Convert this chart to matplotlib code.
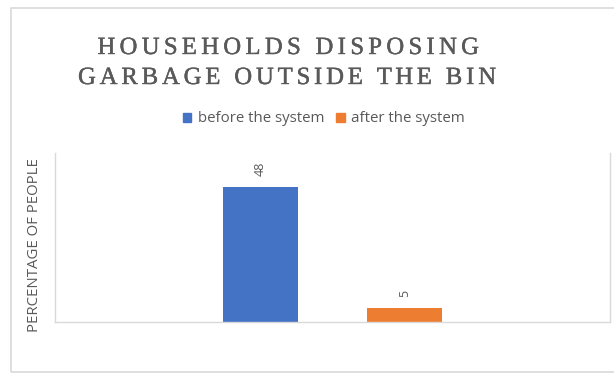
import matplotlib
matplotlib.use("Agg")
import matplotlib.pyplot as plt
import matplotlib.patheffects as pe
from matplotlib.patches import Rectangle
from matplotlib.font_manager import FontProperties

# data
series = ["before the system", "after the system"]
values = [48, 5]
colors = ["#4472C4", "#ED7D31"]
title_lines = ["HOUSEHOLDS DISPOSING", "GARBAGE OUTSIDE THE BIN"]
ylabel = "PERCENTAGE OF PEOPLE"

GRAY = "#595959"
W, H = 614, 374
fig = plt.figure(figsize=(W / 100, H / 100), dpi=100)

# outer chart border
fig.patches.append(Rectangle((11 / W, 1 - 372 / H), 1.2, (372 - 8) / H,
                             transform=fig.transFigure, fill=False,
                             edgecolor="#d9d9d9", linewidth=1.2))

ax = fig.add_axes([55 / W, 1 - 322 / H, (610 - 55) / W, (322 - 153) / H])
xs = list(range(len(values)))
bars = ax.bar(xs, values, width=0.52, color=colors, zorder=2)
ax.set_xlim(-1.427, 2.427)
ax.set_ylim(0, 60)
ax.set_xticks([])
ax.set_yticks([])
for s in ["left", "right", "bottom"]:
    ax.spines[s].set_color("#d9d9d9")
    ax.spines[s].set_linewidth(1.0)
ax.spines["top"].set_visible(False)

for b, v in zip(bars, values):
    ax.annotate(str(v), (b.get_x() + b.get_width() / 2, b.get_height()),
                xytext=(0, 8), textcoords="offset points", ha="center", va="bottom",
                rotation=90, fontsize=9, color=GRAY, family="Open Sans")

ax.set_ylabel(ylabel, fontsize=10.8, color=GRAY, family="Open Sans")
ax.yaxis.set_label_coords(-0.023, 0.456)

# title with letter spacing (per-character placement)
renderer = fig.canvas.get_renderer()
tprop = FontProperties(family="Liberation Serif", size=17.8)
line_spans = [(97.5, 479.0), (78.0, 496.0)]  # left/right pixel extents
line_base = [54.0, 84.0]


def text_w(s):
    w, _, _ = renderer.get_text_width_height_descent(s + "|", tprop, ismath=False)
    w0, _, _ = renderer.get_text_width_height_descent("|", tprop, ismath=False)
    return w - w0


for line, (xl, xr), yb in zip(title_lines, line_spans, line_base):
    raw = text_w(line)
    spacing = ((xr - xl) - raw) / (len(line) - 1)
    for j, ch in enumerate(line):
        if ch == " ":
            continue
        x = xl + text_w(line[:j]) + spacing * j
        fig.text(x / W, 1 - yb / H, ch, ha="left", va="baseline",
                 fontproperties=tprop, color=GRAY,
                 path_effects=[pe.withStroke(linewidth=0.3, foreground=GRAY)])

handles = [Rectangle((0, 0), 1, 1, color=c) for c in colors]
fig.legend(handles, series, loc="center", bbox_to_anchor=(324 / W, 1 - 119 / H),
           ncol=2, frameon=False, handlelength=0.55, handleheight=0.55,
           handletextpad=0.45, columnspacing=0.8,
           prop={"family": "Open Sans", "size": 10.8}, labelcolor=GRAY)

fig.savefig("out.png", dpi=100)
